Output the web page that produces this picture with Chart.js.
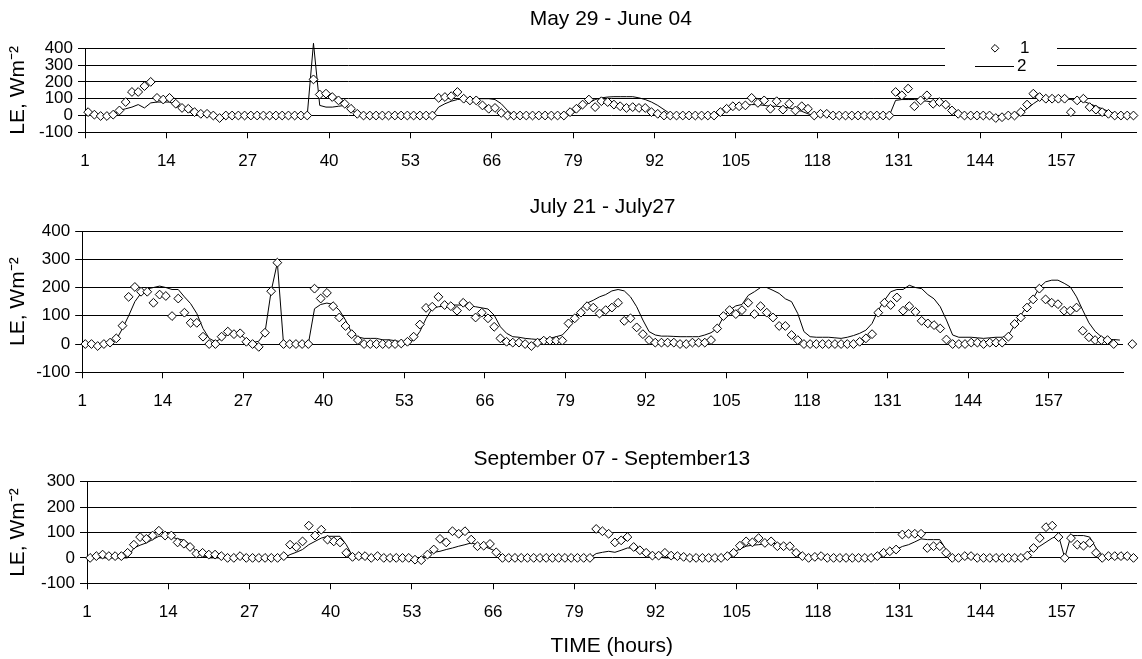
<!DOCTYPE html>
<html>
<head>
<meta charset="utf-8">
<script src="https://cdn.jsdelivr.net/npm/chart.js@4.4.0/dist/chart.umd.min.js"></script>
<style>
  html, body { margin: 0; padding: 0; background: #fff; }
  #wrap { position: relative; width: 1142px; height: 659px; overflow: hidden; background: #fff; }
  canvas { position: absolute; left: 0; }
</style>
</head>
<body>
<div id="wrap">
  <canvas id="c1" width="1142" height="175" style="top:0px"></canvas>
  <canvas id="c2" width="1142" height="240" style="top:180px"></canvas>
  <canvas id="c3" width="1142" height="229" style="top:430px"></canvas>
</div>
<script>
// x axis tick labels (hours), one every 13 categories
const xTickLabels = [1, 14, 27, 40, 53, 66, 79, 92, 105, 118, 131, 144, 157];
const seriesNames = ['1', '2'];

// May 29 - June 04
const mayObs = [
  20, 5, -3, -3, 5, 30, 80, 140, 140, 175,
  200, 105, 95, 105, 70, 45, 40, 20, 10, 10,
  0, -15, 0, 0, 0, 0, 0, 0, 0, 0,
  0, 0, 0, 0, 0, 0, 215, 125, 130, 110,
  90, 70, 40, 10, 0, 0, 0, 0, 0, 0,
  0, 0, 0, 0, 0, 0, 105, 110, 115, 140,
  100, 90, 90, 60, 40, 45, 15, 0, 0, 0,
  0, 0, 0, 0, 0, 0, 0, 20, 40, 65,
  95, 50, 85, 80, 65, 55, 45, 50, 45, 45,
  20, 10, 0, 0, 0, 0, 0, 0, 0, 0,
  0, 20, 40, 55, 55, 60, 105, 75, 90, 40,
  85, 35, 70, 30, 55, 40, 0, 10, 10, 0,
  0, 0, 0, 0, 0, 0, 0, 0, 0, 140,
  120, 160, 55, 90, 120, 70, 80, 65, 30, 10,
  0, 0, 0, 0, 0, -15, -10, 0, 0, 20,
  65, 130, 110, 100, 100, 100, 100, 20, 90, 100,
  50, 35, 20, 10, 0, 0, 0, 0
];
const mayMod = [
  0, 0, 0, 0, 0, 30, 40, 50, 65, 45,
  75, 80, 80, 80, 65, 45, 25, 5, 0, 0,
  0, 0, 0, 0, 0, 0, 0, 0, 0, 0,
  0, 0, 0, 0, 0, 0, 430, 60, 50, 50,
  55, 60, 35, 10, 0, 0, 0, 0, 0, 0,
  0, 0, 0, 0, 0, 0, 50, 70, 85, 95,
  100, 100, 100, 100, 100, 95, 70, 30, 0, 0,
  0, 0, 0, 0, 0, 0, 0, 5, 25, 50,
  75, 95, 105, 110, 112, 112, 112, 112, 105, 95,
  80, 60, 35, 10, 0, 0, 0, 0, 0, 0,
  0, 15, 30, 45, 55, 60, 65, 65, 60, 55,
  55, 50, 45, 35, 25, 10, 0, 0, 0, 0,
  0, 0, 0, 0, 0, 0, 0, 0, 0, 90,
  95, 95, 95, 90, 85, 80, 75, 65, 40, 10,
  0, 0, 0, 0, 0, 0, 0, 0, 0, 10,
  40, 70, 95, 100, 100, 100, 100, 95, 90, 85,
  70, 55, 40, 25, 10, 0, 0, 0
];

// July 21 - July27 (last observed point sits past the axis end)
const julObs = [
  0, 0, -7, 0, 5, 20, 65, 167, 202, 185,
  185, 146, 175, 170, 99, 161, 111, 75, 75, 26,
  0, 0, 26, 44, 35, 38, 8, 0, -10, 40,
  187, 288, 0, 0, 0, 0, 0, 196, 161, 181,
  134, 94, 64, 35, 14, 0, 0, 0, 0, 0,
  0, 2, 8, 26, 69, 128, 132, 167, 138, 134,
  118, 146, 134, 94, 111, 91, 61, 20, 8, 5,
  5, 0, -7, 5, 12, 12, 12, 12, 73, 91,
  111, 134, 129, 108, 120, 129, 146, 82, 91, 59,
  35, 14, 5, 5, 5, 5, 0, 0, 5, 5,
  5, 14, 55, 99, 120, 106, 120, 146, 106, 134,
  111, 94, 64, 64, 32, 14, 0, 0, 0, 0,
  0, 0, 0, 0, 0, 8, 20, 35, 111, 146,
  138, 165, 118, 134, 114, 82, 73, 67, 55, 16,
  0, 0, 0, 5, 5, 0, 5, 5, 5, 26,
  71, 94, 129, 158, 196, 158, 146, 141, 118, 118,
  129, 47, 24, 14, 14, 14, 0, null, null, 0
];
const julMod = [
  0, 0, 0, 0, 0, 15, 55, 100, 150, 180,
  195, 200, 205, 200, 193, 193, 167, 143, 108, 55,
  20, 8, 20, 35, 40, 35, 15, 5, 10, 40,
  187, 288, 0, 0, 0, 0, 0, 125, 140, 145,
  140, 120, 85, 40, 25, 20, 20, 20, 15, 15,
  12, 8, 5, 14, 44, 90, 126, 132, 134, 138,
  138, 138, 135, 132, 128, 124, 102, 61, 38, 26,
  24, 20, 18, 16, 18, 20, 26, 32, 55, 96,
  126, 145, 155, 167, 175, 188, 193, 188, 167, 132,
  85, 44, 32, 28, 28, 27, 26, 26, 26, 26,
  32, 40, 55, 96, 120, 135, 140, 172, 185, 200,
  200, 190, 179, 160, 150, 108, 44, 26, 24, 24,
  24, 22, 20, 24, 30, 38, 49, 73, 120, 155,
  185, 193, 193, 208, 200, 196, 175, 160, 132, 85,
  32, 24, 24, 24, 22, 20, 22, 24, 24, 32,
  67, 102, 134, 161, 200, 220, 226, 226, 215, 202,
  167, 120, 75, 45, 26, 16, 16, 14
];

// September 07 - September13
const sepObs = [
  0, 7, 13, 7, 7, 7, 20, 52, 82, 75,
  88, 107, 88, 88, 61, 56, 43, 17, 20, 13,
  13, 7, 0, 0, 7, 0, 0, 0, 0, 0,
  0, 7, 52, 43, 65, 127, 88, 111, 72, 65,
  61, 20, 4, 7, 7, 0, 7, 0, 0, 0,
  0, 0, -7, -9, 13, 33, 75, 61, 105, 95,
  105, 72, 46, 48, 55, 22, 0, 0, 0, 0,
  0, 0, 0, 0, 0, 0, 0, 0, 0, 0,
  0, 114, 105, 95, 61, 69, 82, 43, 30, 20,
  9, 9, 20, 9, 7, 4, 0, 0, 0, 0,
  0, 0, 7, 20, 48, 65, 61, 78, 59, 65,
  46, 46, 46, 20, 7, 0, 4, 7, 0, 0,
  0, 0, 0, 0, 0, 0, 7, 20, 26, 33,
  92, 95, 95, 95, 39, 46, 46, 20, 0, 0,
  7, 7, 0, 0, 0, 0, 0, 0, 0, 0,
  9, 39, 78, 121, 127, 82, 0, 78, 52, 48,
  59, 20, 0, 7, 7, 7, 7, 0
];
const sepMod = [
  0, 0, 0, 0, 0, 0, 0, 39, 50, 59,
  72, 85, 88, 82, 75, 70, 52, 26, 9, 0,
  0, 0, 0, 0, 0, 0, 0, 0, 0, 0,
  0, 0, 13, 22, 33, 52, 65, 78, 85, 85,
  85, 52, 7, 0, 0, 0, 0, 0, 0, 0,
  0, 0, 0, 0, 17, 22, 26, 33, 39, 46,
  52, 59, 52, 46, 36, 26, 7, 0, 0, 0,
  0, 0, 0, 0, 0, 0, 0, 0, 0, 0,
  0, 17, 22, 26, 22, 30, 39, 39, 30, 22,
  9, 3, 0, 0, 0, 0, 0, 0, 0, 0,
  0, 0, 0, 22, 35, 46, 50, 52, 55, 59,
  55, 52, 40, 22, 0, 0, 0, 0, 0, 0,
  0, 0, 0, 0, 0, 0, 7, 15, 22, 33,
  45, 52, 63, 75, 72, 72, 72, 33, 9, 0,
  0, 0, 0, 0, 0, 0, 0, 0, 0, 0,
  20, 33, 46, 62, 78, 88, 0, 88, 88, 88,
  82, 39, 7, 0, 0, 0, 0, 0
];

const FONT = "'Liberation Sans', Arial, Helvetica, sans-serif";
Chart.defaults.font.family = FONT;
Chart.defaults.color = '#000';

// each hour sits in the middle of its category cell
function toPoints(ys) {
  return ys.map((y, k) => ({ x: k + 0.5, y: y }));
}

// legend box drawn over the top grid lines of the first panel
const cornerLegend = {
  id: 'cornerLegend',
  afterDraw(chart, args, o) {
    if (!o.show) return;
    const ctx = chart.ctx;
    ctx.save();
    ctx.fillStyle = '#fff';
    ctx.fillRect(o.x, o.y, o.w, o.h);
    ctx.strokeStyle = '#000';
    ctx.lineWidth = 1;
    // diamond marker
    const r = 3.8;
    ctx.beginPath();
    ctx.moveTo(o.markX, o.row1 - r);
    ctx.lineTo(o.markX + r, o.row1);
    ctx.lineTo(o.markX, o.row1 + r);
    ctx.lineTo(o.markX - r, o.row1);
    ctx.closePath();
    ctx.fillStyle = '#fff';
    ctx.fill();
    ctx.stroke();
    // line sample
    ctx.beginPath();
    ctx.moveTo(o.lineX0, o.row2);
    ctx.lineTo(o.lineX1, o.row2);
    ctx.stroke();
    ctx.fillStyle = '#000';
    ctx.font = '17px ' + FONT;
    ctx.textBaseline = 'middle';
    ctx.textAlign = 'left';
    ctx.fillText(chart.data.datasets[0].label, o.textX, o.row1);
    ctx.fillText(chart.data.datasets[1].label, o.textX2, o.row2);
    ctx.restore();
  }
};

// points that fall right of the plot area are still drawn (as in the original)
const outsidePoints = {
  id: 'outsidePoints',
  afterDatasetsDraw(chart) {
    const area = { left: 0, top: 0, right: chart.width, bottom: chart.height };
    const meta = chart.getDatasetMeta(0);
    meta.data.forEach(p => {
      if (!p.skip && p.x > chart.chartArea.right + 2) p.draw(chart.ctx, area);
    });
  }
};

function makePanel(id, title, obs, mod, ymax, box, xTitle, legend) {
  const canvasH = document.getElementById(id).height;
  const padTop = box.titleMid - box.top - 12.6;
  const padBottom = box.areaTop - box.top - padTop - 25.2;
  return new Chart(document.getElementById(id), {
    type: 'line',
    data: {
      datasets: [
        {
          label: seriesNames[0],
          data: toPoints(obs),
          showLine: false,
          pointStyle: 'rectRot',
          pointRadius: 4.4,
          pointBorderWidth: 1,
          pointBorderColor: '#000',
          pointBackgroundColor: '#fff',
          clip: false
        },
        {
          label: seriesNames[1],
          data: toPoints(mod),
          borderColor: '#000',
          borderWidth: 1,
          pointRadius: 0,
          tension: 0,
          fill: false,
          clip: false
        }
      ]
    },
    options: {
      responsive: false,
      animation: false,
      devicePixelRatio: 1,
      layout: { padding: { left: 0, top: 0, bottom: 0, right: 1142 - box.right } },
      plugins: {
        legend: { display: false },
        tooltip: { enabled: false },
        title: {
          display: true,
          text: title,
          fullSize: false,
          color: '#000',
          font: { size: 21, weight: 'normal', lineHeight: 1.2 },
          padding: { top: padTop, bottom: padBottom }
        },
        cornerLegend: legend || { show: false }
      },
      scales: {
        x: {
          type: 'linear',
          bounds: 'data',
          afterDataLimits: s => { s.min = 0; s.max = 168; },
          afterBuildTicks: s => { s.ticks = xTickLabels.map(v => ({ value: v - 1 })); },
          ticks: {
            autoSkip: false,
            maxRotation: 0,
            padding: 13,
            color: '#000',
            font: { size: 17 },
            callback: (v, i) => String(xTickLabels[i])
          },
          grid: { drawOnChartArea: false, color: '#000', tickLength: 6, lineWidth: 1 },
          border: { display: true, color: '#000', width: 1 },
          title: {
            display: !!xTitle,
            text: xTitle || '',
            color: '#000',
            font: { size: 21, lineHeight: 1.2 },
            padding: { top: 1.4, bottom: 0 }
          },
          afterFit: s => { s.height = box.top + canvasH - box.areaBottom; }
        },
        y: {
          min: -100,
          max: ymax,
          ticks: { stepSize: 100, autoSkip: false, padding: 5, color: '#000', font: { size: 17 } },
          grid: { color: '#000', lineWidth: 1, tickLength: 7 },
          border: { display: true, color: '#000', width: 1 },
          title: {
            display: true,
            text: 'LE, Wm\u207B\u00B2',
            color: '#000',
            font: { size: 21, lineHeight: 1.2 },
            padding: { top: 5.4, bottom: 0 }
          },
          afterFit: s => { s.width = box.left; }
        }
      }
    },
    plugins: [cornerLegend, outsidePoints]
  });
}

makePanel('c1', 'May 29 - June 04', mayObs, mayMod, 400,
  { top: 0, titleMid: 19, areaTop: 48.3, areaBottom: 132.3, left: 85, right: 1139.4 },
  null,
  { show: true, x: 945, y: 40, w: 112, h: 33, markX: 995, row1: 48.3, row2: 66.5,
    lineX0: 975, lineX1: 1014, textX: 1020, textX2: 1017 });

makePanel('c2', 'July 21 - July27', julObs, julMod, 400,
  { top: 180, titleMid: 207.5, areaTop: 231, areaBottom: 372.3, left: 82.2, right: 1123 },
  null, null);

makePanel('c3', 'September 07 - September13', sepObs, sepMod, 300,
  { top: 430, titleMid: 459, areaTop: 481.7, areaBottom: 583.3, left: 87, right: 1138 },
  'TIME (hours)', null);
</script>
</body>
</html>
